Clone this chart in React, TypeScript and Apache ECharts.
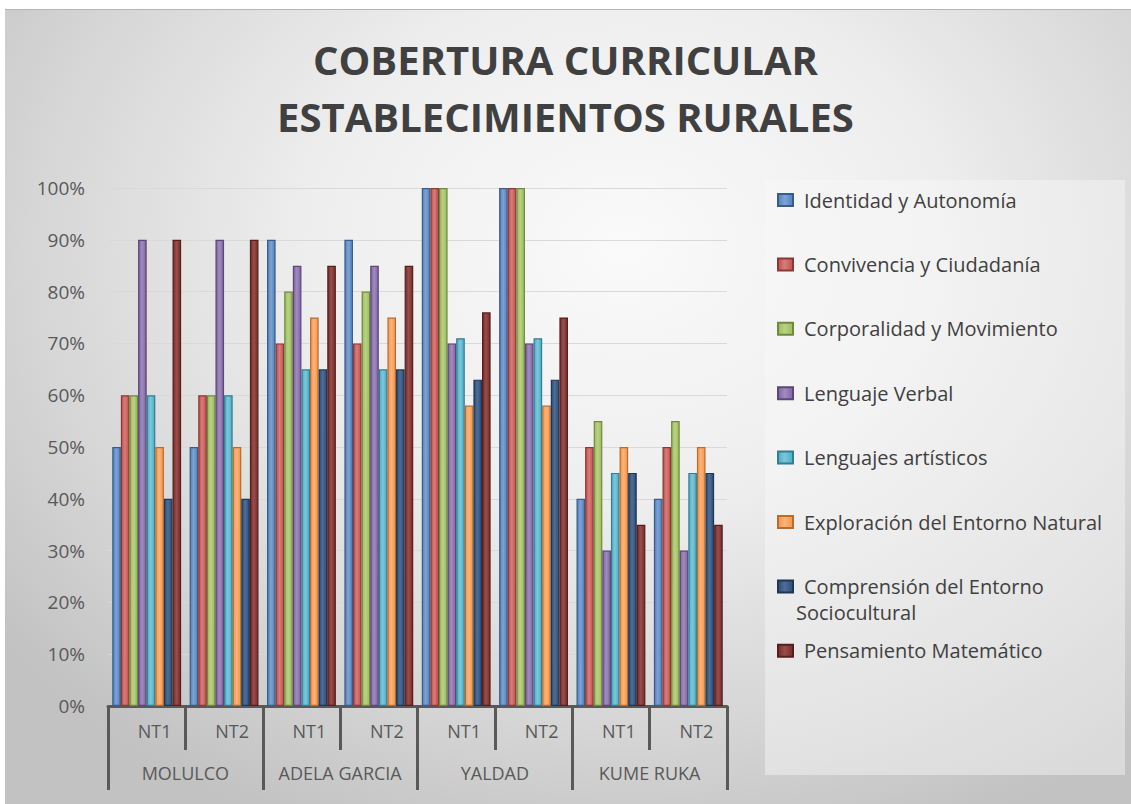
import React, { useEffect, useRef } from "react";
import * as echarts from "echarts";

const levels = ["NT1", "NT2", "NT1", "NT2", "NT1", "NT2", "NT1", "NT2"];
const schools = ["MOLULCO", "ADELA GARCIA", "YALDAD", "KUME RUKA"];

const seriesNames = [
  "Identidad y Autonomía",
  "Convivencia y Ciudadanía",
  "Corporalidad y Movimiento",
  "Lenguaje Verbal",
  "Lenguajes artísticos",
  "Exploración del Entorno Natural",
  "Comprensión del Entorno Sociocultural",
  "Pensamiento Matemático",
];

const identidad = [50, 50, 90, 90, 100, 100, 40, 40];
const convivencia = [60, 60, 70, 70, 100, 100, 50, 50];
const corporalidad = [60, 60, 80, 80, 100, 100, 55, 55];
const lenguajeVerbal = [90, 90, 85, 85, 70, 70, 30, 30];
const lenguajesArtisticos = [60, 60, 65, 65, 71, 71, 45, 45];
const exploracion = [50, 50, 75, 75, 58, 58, 50, 50];
const comprension = [40, 40, 65, 65, 63, 63, 45, 45];
const pensamiento = [90, 90, 85, 85, 76, 75, 35, 35];

const seriesValues = [
  identidad,
  convivencia,
  corporalidad,
  lenguajeVerbal,
  lenguajesArtisticos,
  exploracion,
  comprension,
  pensamiento,
];

const baseColors = ["#4F81BD", "#C0504D", "#9BBB59", "#8064A2", "#4BACC6", "#F79646", "#2C4D75", "#772C2A"];
const lightColors = ["#7FA3D3", "#D97D7A", "#B9D286", "#A08CC0", "#7CC8DB", "#FBB27A", "#4D6E98", "#9A4E4B"];
const borderColors = ["#385D8A", "#8C3836", "#71893F", "#5C4776", "#357D91", "#B66D31", "#1F3754", "#561F1E"];

const FONT = "'Open Sans', 'DejaVu Sans', sans-serif";

export default function App() {
  const ref = useRef<HTMLDivElement>(null);

  useEffect(() => {
    document.body.style.margin = "0";
    if (!ref.current) return;
    const chart = echarts.init(ref.current, undefined, { renderer: "svg" });

    const series = seriesNames.map((name, i) => ({
      name,
      type: "bar",
      xAxisIndex: 0,
      yAxisIndex: 0,
      barGap: "0%",
      barCategoryGap: "11%",
      data: seriesValues[i],
      itemStyle: {
        color: new echarts.graphic.LinearGradient(0, 0, 1, 0, [
          { offset: 0, color: baseColors[i] },
          { offset: 0.45, color: lightColors[i] },
          { offset: 1, color: baseColors[i] },
        ]),
        borderColor: borderColors[i],
        borderWidth: 1.2,
      },
    }));

    chart.setOption({
      animation: false,
      backgroundColor: "transparent",
      textStyle: { fontFamily: FONT },
      title: {
        text: "COBERTURA CURRICULAR\nESTABLECIMIENTOS RURALES",
        left: "center",
        top: 31,
        padding: [0, 0, 0, 20],
        textStyle: {
          fontFamily: FONT,
          fontSize: 40,
          fontWeight: "bold",
          color: "#404040",
          lineHeight: 57,
        },
      },
      grid: { left: 108, right: 404, top: 188, bottom: 98, containLabel: false },
      legend: {
        orient: "vertical",
        left: 772,
        top: 183,
        itemWidth: 15,
        itemHeight: 12,
        itemGap: 40.4,
        icon: "rect",
        selectedMode: false,
        data: seriesNames,
        formatter: (name: string) =>
          name === "Comprensión del Entorno Sociocultural" ? "Comprensión del Entorno" : name,
        textStyle: {
          fontFamily: FONT,
          fontSize: 20,
          color: "#404040",
          lineHeight: 24,
          padding: [0, 0, 0, 6],
        },
      },
      graphic: [
        {
          type: "rect",
          z: 0,
          shape: { x: 765, y: 180, width: 360, height: 595 },
          style: { fill: "rgba(248,248,248,0.45)" },
          silent: true,
        },
        {
          type: "text",
          z: 5,
          x: 796,
          y: 612,
          style: {
            text: "Sociocultural",
            fontFamily: FONT,
            fontSize: 20,
            fill: "#404040",
            verticalAlign: "middle",
            align: "left",
          },
        },
      ],
      xAxis: [
        {
          type: "category",
          data: levels,
          position: "bottom",
          axisLine: { show: true, lineStyle: { color: "#595959", width: 3 } },
          axisTick: { show: true, interval: 0, length: 44, lineStyle: { color: "#595959", width: 3 } },
          axisLabel: {
            interval: 0,
            margin: 16,
            fontSize: 18,
            color: "#595959",
            fontFamily: FONT,
            padding: [0, 0, 0, 16],
          },
          splitLine: { show: false },
        },
        {
          type: "category",
          data: schools,
          position: "bottom",
          offset: 44,
          axisLine: { show: false },
          axisTick: { show: true, interval: 0, length: 40, lineStyle: { color: "#595959", width: 3 } },
          axisLabel: {
            interval: 0,
            margin: 14,
            fontSize: 18,
            color: "#595959",
            fontFamily: FONT,
          },
          splitLine: { show: false },
        },
      ],
      yAxis: {
        type: "value",
        min: 0,
        max: 100,
        interval: 10,
        axisLine: { show: false },
        axisTick: { show: false },
        axisLabel: {
          formatter: "{value}%",
          fontSize: 19,
          color: "#595959",
          margin: 23,
          fontFamily: FONT,
        },
        splitLine: { show: true, lineStyle: { color: "#d9d9d9", width: 1 } },
      },
      series,
    });

    return () => chart.dispose();
  }, []);

  return (
    <div style={{ position: "relative", width: 1131, height: 804, background: "#ffffff", overflow: "hidden" }}>
      <div
        style={{
          position: "absolute",
          left: 5,
          top: 9,
          right: 0,
          bottom: 0,
          borderTop: "1px solid #b5b5b5",
          background:
            "radial-gradient(ellipse 70% 80% at 55% 30%, #fafafa 0%, #eeeeee 40%, #d6d6d6 75%, #c2c2c2 100%)",
        }}
      />
      <div ref={ref} style={{ position: "absolute", left: 0, top: 0, width: 1131, height: 804 }} />
    </div>
  );
}
